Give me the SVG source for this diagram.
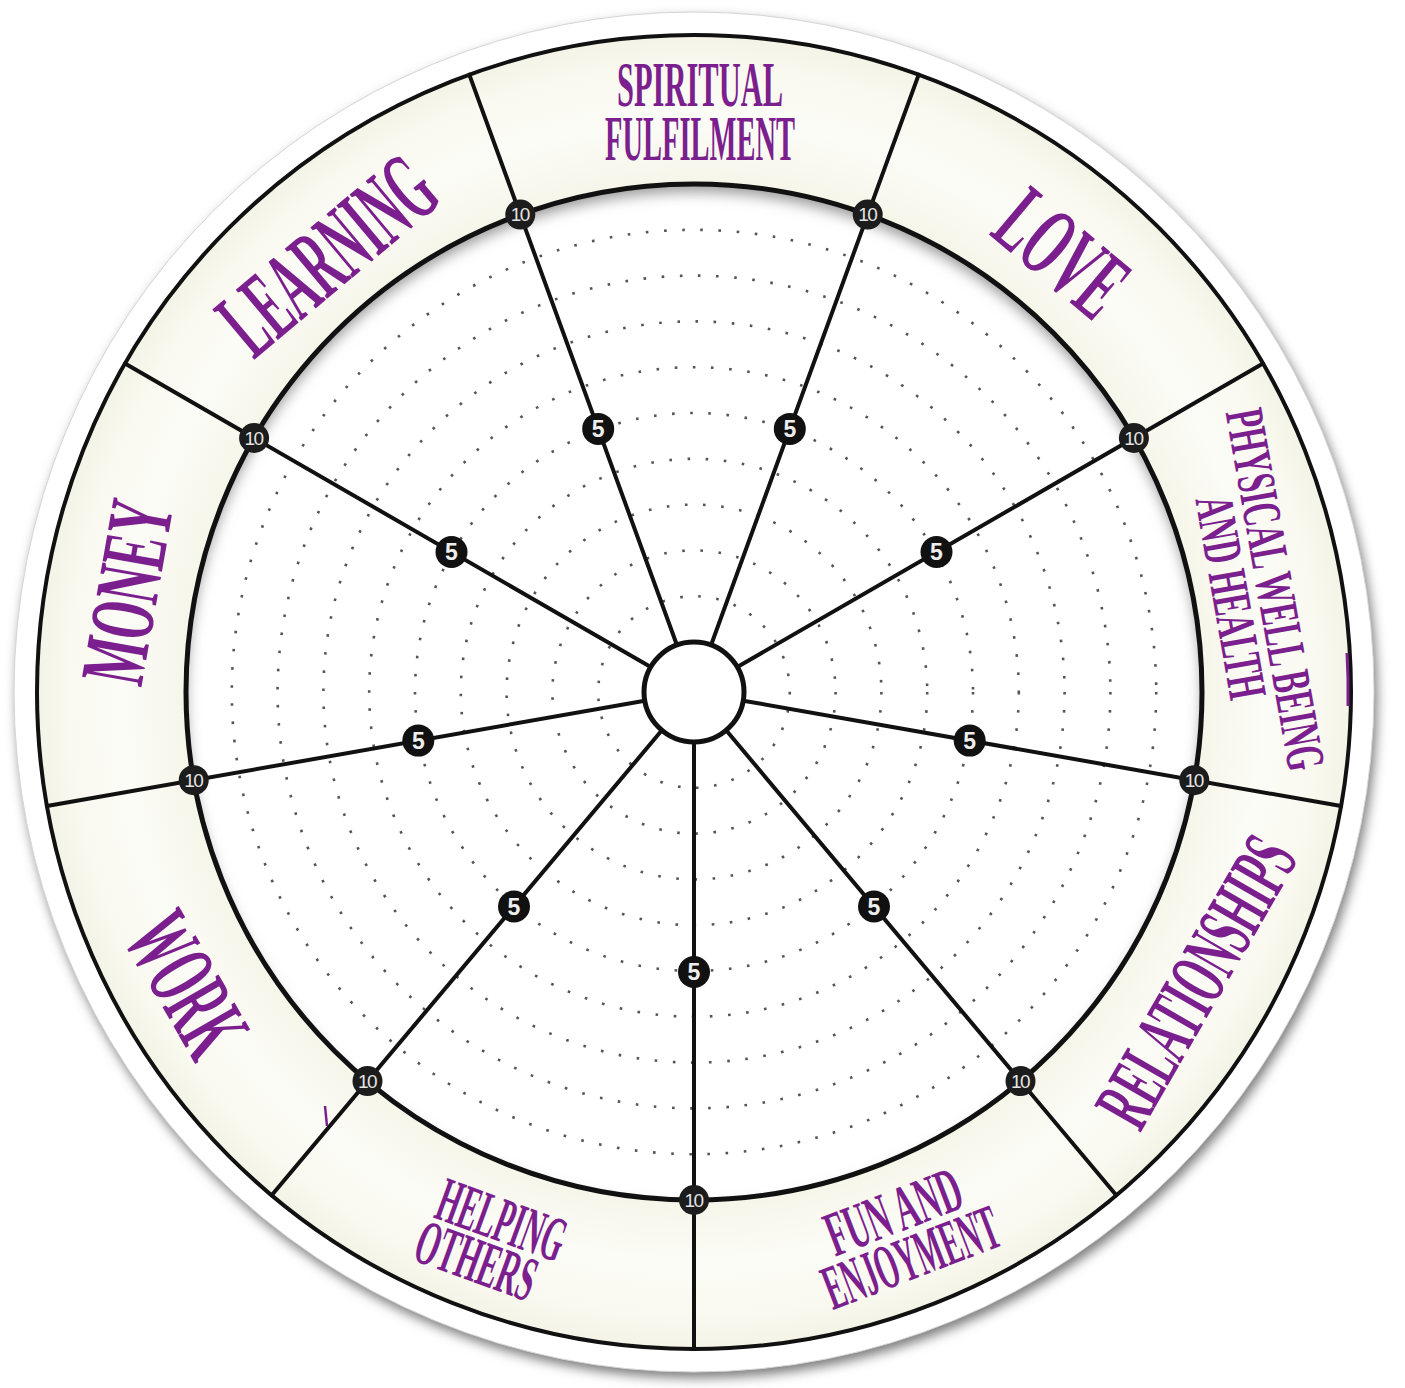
<svg xmlns="http://www.w3.org/2000/svg" width="1405" height="1388" viewBox="0 0 1405 1388">
<defs>
<style>
.lbl{font-family:"Liberation Serif","Times New Roman",serif;font-weight:bold;fill:#7c1f8e;text-anchor:middle}
.spoke{stroke:#111;stroke-width:4;stroke-linecap:round}
.dots{fill:none;stroke:#555;stroke-width:2.6;stroke-dasharray:2.6 15.6}
.m10 circle{fill:#1c1c1c}
.m10 text{font-family:"Liberation Sans",Arial,sans-serif;font-size:19px;fill:#e4e4e4;text-anchor:middle;letter-spacing:-1.5px}
.m5 circle{fill:#111}
.m5 text{font-family:"Liberation Sans",Arial,sans-serif;font-size:23px;font-weight:bold;fill:#eee;text-anchor:middle}
</style>
<radialGradient id="bandFill" cx="694" cy="692" r="657" gradientUnits="userSpaceOnUse">
<stop offset="0.77" stop-color="#f5f5e9"/>
<stop offset="0.87" stop-color="#fcfcf7"/>
<stop offset="0.95" stop-color="#f9f9f0"/>
<stop offset="1" stop-color="#f3f3e6"/>
</radialGradient>
<filter id="blur" x="-10%" y="-10%" width="120%" height="120%"><feGaussianBlur stdDeviation="6"/></filter>
<filter id="blur2" x="-10%" y="-10%" width="120%" height="120%"><feGaussianBlur stdDeviation="7"/></filter>
<clipPath id="disc"><circle cx="694" cy="692" r="508"/></clipPath>
</defs>
<rect width="1405" height="1388" fill="#fff"/>
<g id="sticker">
<circle cx="697" cy="698" r="680" fill="#7a7a7a" filter="url(#blur)"/>
<circle cx="694" cy="692" r="680" fill="#fff" stroke="#d6d6d6" stroke-width="1"/>
</g>
<g id="band">
<circle cx="694" cy="692" r="657" fill="url(#bandFill)" stroke="#111" stroke-width="4"/>
</g>
<g id="inner-disc">
<circle cx="694" cy="692" r="508" fill="#fff"/>
<g clip-path="url(#disc)"><circle cx="694" cy="700" r="522" fill="none" stroke="#9a9a9a" stroke-width="28" filter="url(#blur2)"/></g>
</g>
<g id="dotted-rings">
<circle class="dots" cx="694" cy="692" r="95.8"/>
<circle class="dots" cx="694" cy="692" r="141.6"/>
<circle class="dots" cx="694" cy="692" r="187.4"/>
<circle class="dots" cx="694" cy="692" r="233.2"/>
<circle class="dots" cx="694" cy="692" r="279"/>
<circle class="dots" cx="694" cy="692" r="324.8"/>
<circle class="dots" cx="694" cy="692" r="370.6"/>
<circle class="dots" cx="694" cy="692" r="416.4"/>
<circle class="dots" cx="694" cy="692" r="462.2"/>
</g>
<g id="ring">
<circle cx="694" cy="692" r="508" fill="none" stroke="#111" stroke-width="5"/>
</g>
<g id="connectors">
<line class="spoke" x1="694" y1="642" x2="694" y2="35" transform="rotate(20 694 692)"/>
<line class="spoke" x1="694" y1="642" x2="694" y2="35" transform="rotate(60 694 692)"/>
<line class="spoke" x1="694" y1="642" x2="694" y2="35" transform="rotate(100 694 692)"/>
<line class="spoke" x1="694" y1="642" x2="694" y2="35" transform="rotate(140 694 692)"/>
<line class="spoke" x1="694" y1="642" x2="694" y2="35" transform="rotate(180 694 692)"/>
<line class="spoke" x1="694" y1="642" x2="694" y2="35" transform="rotate(220 694 692)"/>
<line class="spoke" x1="694" y1="642" x2="694" y2="35" transform="rotate(260 694 692)"/>
<line class="spoke" x1="694" y1="642" x2="694" y2="35" transform="rotate(300 694 692)"/>
<line class="spoke" x1="694" y1="642" x2="694" y2="35" transform="rotate(340 694 692)"/>
</g>
<g id="hub">
<circle cx="694" cy="692" r="50" fill="#fff" stroke="#111" stroke-width="5"/>
</g>
<g id="markers-10">
<g class="m10" id="m10-a"><circle cx="867.7" cy="214.6" r="15"/><text x="867.2" y="221.4">10</text></g>
<g class="m10" id="m10-b"><circle cx="1133.9" cy="438" r="15"/><text x="1133.4" y="444.8">10</text></g>
<g class="m10" id="m10-c"><circle cx="1194.3" cy="780.2" r="15"/><text x="1193.8" y="787">10</text></g>
<g class="m10" id="m10-d"><circle cx="1020.5" cy="1081.1" r="15"/><text x="1020" y="1087.9">10</text></g>
<g class="m10" id="m10-e"><circle cx="694" cy="1200" r="15"/><text x="693.5" y="1206.8">10</text></g>
<g class="m10" id="m10-f"><circle cx="367.5" cy="1081.1" r="15"/><text x="367" y="1087.9">10</text></g>
<g class="m10" id="m10-g"><circle cx="193.7" cy="780.2" r="15"/><text x="193.2" y="787">10</text></g>
<g class="m10" id="m10-h"><circle cx="254.1" cy="438" r="15"/><text x="253.6" y="444.8">10</text></g>
<g class="m10" id="m10-i"><circle cx="520.3" cy="214.6" r="15"/><text x="519.8" y="221.4">10</text></g>
</g>
<g id="markers-5">
<g class="m5" id="m5-a"><circle cx="789.8" cy="428.9" r="16"/><text x="789.8" y="437.2">5</text></g>
<g class="m5" id="m5-b"><circle cx="936.5" cy="552" r="16"/><text x="936.5" y="560.3">5</text></g>
<g class="m5" id="m5-c"><circle cx="969.7" cy="740.6" r="16"/><text x="969.7" y="748.9">5</text></g>
<g class="m5" id="m5-d"><circle cx="874" cy="906.5" r="16"/><text x="874" y="914.8">5</text></g>
<g class="m5" id="m5-e"><circle cx="694" cy="972" r="16"/><text x="694" y="980.3">5</text></g>
<g class="m5" id="m5-f"><circle cx="514" cy="906.5" r="16"/><text x="514" y="914.8">5</text></g>
<g class="m5" id="m5-g"><circle cx="418.3" cy="740.6" r="16"/><text x="418.3" y="748.9">5</text></g>
<g class="m5" id="m5-h"><circle cx="451.5" cy="552" r="16"/><text x="451.5" y="560.3">5</text></g>
<g class="m5" id="m5-i"><circle cx="598.2" cy="428.9" r="16"/><text x="598.2" y="437.2">5</text></g>
</g>
<g id="label-spiritual">
<text class="lbl" x="700" y="106" font-size="63" textLength="166" lengthAdjust="spacingAndGlyphs">SPIRITUAL</text>
<text class="lbl" x="700" y="160" font-size="63" textLength="190" lengthAdjust="spacingAndGlyphs">FULFILMENT</text>
</g>
<g id="label-love">
<text class="lbl" x="694" y="152" font-size="99" textLength="138" lengthAdjust="spacingAndGlyphs" transform="rotate(40 694 692)">LOVE</text>
</g>
<g id="label-physical">
<g transform="rotate(80 694 692)">
<text class="lbl" x="694" y="120" font-size="55" textLength="366" lengthAdjust="spacingAndGlyphs">PHYSICAL WELL BEING</text>
<text class="lbl" x="694" y="165" font-size="55" textLength="205" lengthAdjust="spacingAndGlyphs">AND HEALTH</text>
</g>
</g>
<g id="label-relationships">
<text class="lbl" x="694" y="1299" font-size="82" textLength="318" lengthAdjust="spacingAndGlyphs" transform="rotate(-60 694 692)">RELATIONSHIPS</text>
</g>
<g id="label-fun">
<g transform="rotate(-21 694 692)">
<text class="lbl" x="694" y="1270" font-size="64" textLength="141" lengthAdjust="spacingAndGlyphs">FUN AND</text>
<text class="lbl" x="694" y="1319" font-size="64" textLength="184" lengthAdjust="spacingAndGlyphs">ENJOYMENT</text>
</g>
</g>
<g id="label-helping">
<g transform="rotate(20 694 692)">
<text class="lbl" x="694" y="1275" font-size="64" textLength="132" lengthAdjust="spacingAndGlyphs">HELPING</text>
<text class="lbl" x="684" y="1322" font-size="64" textLength="124" lengthAdjust="spacingAndGlyphs">OTHERS</text>
</g>
</g>
<g id="label-work">
<text class="lbl" x="694" y="1310" font-size="99" textLength="146" lengthAdjust="spacingAndGlyphs" transform="rotate(60 694 692)">WORK</text>
</g>
<g id="label-money">
<text class="lbl" x="694" y="147" font-size="92" textLength="184" lengthAdjust="spacingAndGlyphs" transform="rotate(-80 694 692)">MONEY</text>
</g>
<g id="label-learning">
<text class="lbl" x="694" y="155" font-size="100" textLength="248" lengthAdjust="spacingAndGlyphs" transform="rotate(-40 694 692)">LEARNING</text>
</g>
<g id="marks" fill="none" stroke="#7c1f8e" stroke-width="3">
<path d="M1347,653 A654,654 0 0 1 1348,706"/>
<line x1="325" y1="1106" x2="327" y2="1126" stroke-width="2.5"/>
</g>
</svg>
